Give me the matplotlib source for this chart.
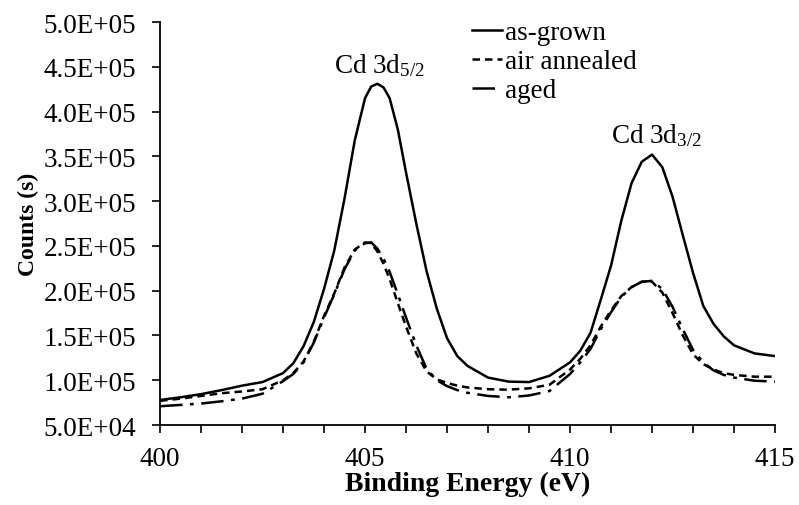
import matplotlib
matplotlib.use("Agg")
import matplotlib.pyplot as plt
from matplotlib.ticker import FuncFormatter, MultipleLocator

energy = [400, 400.5, 401, 401.5, 402, 402.5, 403, 403.25, 403.5, 403.75,
          404, 404.25, 404.5, 404.75, 405, 405.15, 405.3, 405.45, 405.6, 405.8,
          406, 406.25, 406.5, 406.75, 407, 407.25, 407.5, 408, 408.5, 409,
          409.5, 410, 410.25, 410.5, 410.75, 411, 411.25, 411.5, 411.75, 412,
          412.25, 412.5, 412.75, 413, 413.25, 413.5, 413.75, 414, 414.5, 415]

as_grown = [78000, 81000, 84500, 89000, 94000, 98000, 108000, 119000, 138000, 165000,
            202000, 245000, 303000, 368000, 415000, 428000, 431000, 427000, 415000, 380000,
            332000, 275000, 222000, 180000, 147000, 127000, 116000, 103000, 98500, 98000,
            105000, 120000, 133000, 153000, 190000, 228000, 278000, 320000, 344000, 352000,
            338000, 305000, 262000, 220000, 183000, 163000, 149000, 139000, 130000, 127000]

air_annealed = [77000, 79500, 82500, 85500, 87500, 90000, 100000, 108000, 121000, 143000,
                172000, 197000, 226000, 246000, 254000, 253000, 244000, 230000, 213000, 186000,
                160000, 130000, 110000, 101000, 97000, 94000, 92000, 90000, 89500, 91000,
                95000, 112000, 124000, 139000, 160000, 178000, 194000, 204000, 210000, 210000,
                198000, 175000, 150000, 129000, 118000, 112000, 108000, 106000, 104000, 104000]

aged = [71000, 72500, 74000, 76500, 79500, 85000, 99000, 107000, 120000, 142000,
        170000, 196000, 224000, 245000, 253000, 254000, 247000, 236000, 221000, 196000,
        170000, 139000, 113000, 100000, 93500, 89000, 86000, 82500, 81000, 83000,
        88000, 107000, 120000, 135000, 157000, 176000, 193000, 204000, 210000, 211000,
        202000, 182000, 157000, 134000, 120000, 111000, 106000, 103000, 99500, 98500]

series_labels = ["as-grown", "air annealed", "aged"]
peak_labels = ["Cd 3d$_{5/2}$", "Cd 3d$_{3/2}$"]
peak_pos = [(405.35, 452000), (412.1, 374000)]

plt.rcParams['font.family'] = ['Liberation Serif', 'DejaVu Serif']
plt.rcParams['mathtext.fontset'] = 'custom'
plt.rcParams['mathtext.rm'] = 'Liberation Serif'
plt.rcParams['mathtext.it'] = 'Liberation Serif:italic'

fig = plt.figure(figsize=(7.99, 5.06), dpi=100)
ax = fig.add_axes([0.2003, 0.158, 0.7697, 0.7965])

ax.plot(energy, as_grown, color='black', lw=1.8, ls='-', label=series_labels[0])
ax.plot(energy, air_annealed, color='black', lw=1.8, ls=(0, (3, 2)), label=series_labels[1])
ax.plot(energy, aged, color='black', lw=1.8, ls=(0, (9, 3, 1.5, 3)), label=series_labels[2])

ax.set_xlim(400, 415)
ax.set_ylim(50000, 500000)
ax.xaxis.set_major_locator(MultipleLocator(5))
ax.xaxis.set_minor_locator(MultipleLocator(1))
ax.yaxis.set_major_locator(MultipleLocator(50000))
ax.yaxis.set_major_formatter(FuncFormatter(lambda v, p: f"{v:.1E}"))

for s in ['top', 'right']:
    ax.spines[s].set_visible(False)
for s in ['left', 'bottom']:
    ax.spines[s].set_linewidth(1.3)

ax.tick_params(axis='both', which='both', direction='out', length=6, width=1.2,
               labelsize=19.5, colors='black')
ax.tick_params(axis='x', which='both', pad=9)
ax.tick_params(axis='y', pad=11)

ax.set_xlabel("Binding Energy (eV)", fontsize=20, fontweight='bold', labelpad=0)
ax.set_ylabel("Counts (s)", fontsize=17, fontweight='bold', labelpad=3)

for lab, (x, y) in zip(peak_labels, peak_pos):
    ax.text(x, y, lab, ha='center', va='center', fontsize=19.5)

leg = fig.legend(loc='upper left', bbox_to_anchor=(472 / 799, 1 - 21 / 506),
                 frameon=False, fontsize=19.5, handlelength=1.1, handletextpad=0.12,
                 labelspacing=0.15, borderaxespad=0, borderpad=0)

fig.savefig("out.png", dpi=100)
